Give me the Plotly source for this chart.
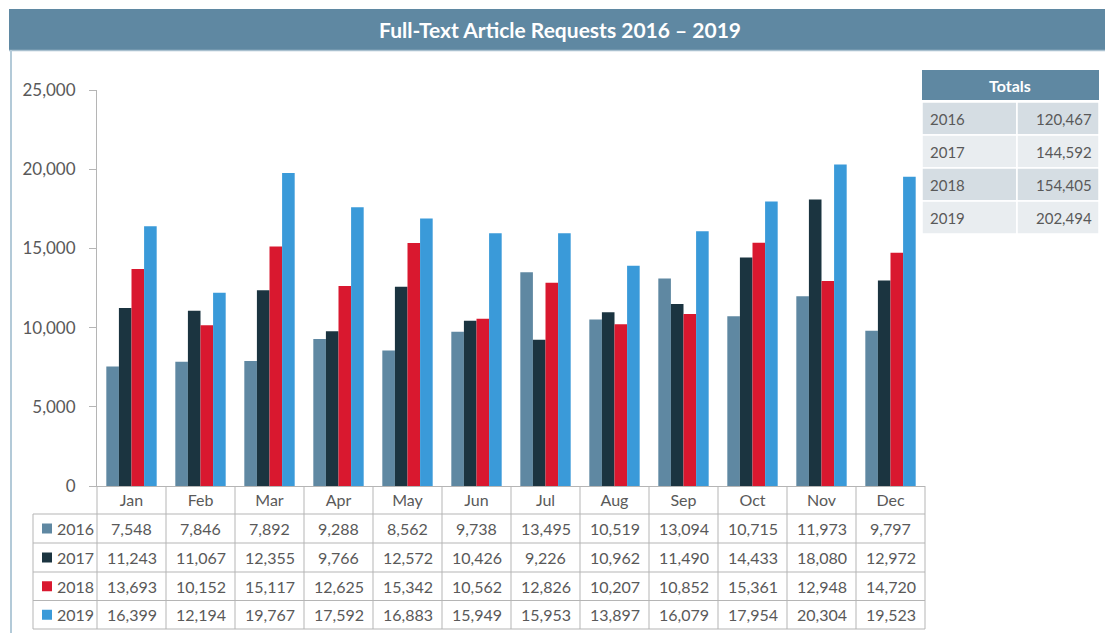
import plotly.graph_objects as go

months = ["Jan", "Feb", "Mar", "Apr", "May", "Jun", "Jul", "Aug", "Sep", "Oct", "Nov", "Dec"]
years = ["2016", "2017", "2018", "2019"]
v2016 = [7548, 7846, 7892, 9288, 8562, 9738, 13495, 10519, 13094, 10715, 11973, 9797]
v2017 = [11243, 11067, 12355, 9766, 12572, 10426, 9226, 10962, 11490, 14433, 18080, 12972]
v2018 = [13693, 10152, 15117, 12625, 15342, 10562, 12826, 10207, 10852, 15361, 12948, 14720]
v2019 = [16399, 12194, 19767, 17592, 16883, 15949, 15953, 13897, 16079, 17954, 20304, 19523]
totals = [120467, 144592, 154405, 202494]
colors = ["#5f88a2", "#1b3440", "#d9182f", "#3a9ad9"]
title_text = "Full-Text Article Requests 2016 \u2013 2019"

series = [v2016, v2017, v2018, v2019]

W, H = 1105, 633
L, R, T, B = 97, 925, 90, 486
PW, PH = R - L, B - T


def px(x):
    return (x - L) / PW


def py(y):
    return (B - y) / PH


FONT = "Lato"
TXT = "#595959"
GRID = "#b5b5b5"
BAR_BLUE = "#5f88a2"

fig = go.Figure()
for yr, vals, c in zip(years, series, colors):
    fig.add_trace(go.Bar(x=months, y=vals, name=yr, marker=dict(color=c, line=dict(width=0)),
                         showlegend=False))

shapes = []
annotations = []

# title bar
shapes.append(dict(type="rect", xref="paper", yref="paper", x0=px(9), x1=px(1106), y0=py(50), y1=py(9),
                   fillcolor=BAR_BLUE, line=dict(width=0), layer="below"))
shapes.append(dict(type="line", xref="paper", yref="paper", x0=px(9), x1=px(1106), y0=py(50.5), y1=py(50.5),
                   line=dict(color="#a9c0cf", width=1.5)))
shapes.append(dict(type="line", xref="paper", yref="paper", x0=px(11), x1=px(11), y0=py(50), y1=py(640),
                   line=dict(color="#b3cad8", width=2)))
annotations.append(dict(text="<b>" + title_text + "</b>", xref="paper", yref="paper", x=px(560), y=py(29.5),
                        showarrow=False, font=dict(family=FONT, size=21, color="white"),
                        xanchor="center", yanchor="middle"))

# data table grid
row_edges = [514, 543, 572, 600.5, 629]
tbl_left = 33
for ye in row_edges:
    shapes.append(dict(type="line", xref="paper", yref="paper", x0=px(tbl_left), x1=1.0, y0=py(ye), y1=py(ye),
                       line=dict(color=GRID, width=1)))
shapes.append(dict(type="line", xref="paper", yref="paper", x0=px(tbl_left), x1=px(tbl_left),
                   y0=py(row_edges[0]), y1=py(row_edges[-1]), line=dict(color=GRID, width=1)))
shapes.append(dict(type="line", xref="paper", yref="paper", x0=0, x1=0, y0=py(B), y1=py(row_edges[-1]),
                   line=dict(color=GRID, width=1)))
shapes.append(dict(type="line", xref="paper", yref="paper", x0=1, x1=1, y0=py(B), y1=py(row_edges[-1]),
                   line=dict(color=GRID, width=1)))
for i in range(len(months) - 1):
    shapes.append(dict(type="line", xref="x", yref="paper", x0=i + 0.5, x1=i + 0.5, y0=py(B),
                       y1=py(row_edges[-1]), line=dict(color=GRID, width=1)))

for r, (yr, vals, c) in enumerate(zip(years, series, colors)):
    yc = (row_edges[r] + row_edges[r + 1]) / 2
    shapes.append(dict(type="rect", xref="paper", yref="paper", x0=px(42), x1=px(52), y0=py(yc + 5),
                       y1=py(yc - 5), fillcolor=c, line=dict(width=0)))
    annotations.append(dict(text=yr, xref="paper", yref="paper", x=px(55), y=py(yc), xanchor="left",
                            yanchor="middle", showarrow=False, font=dict(family=FONT, size=16, color=TXT)))
    for m, v in zip(months, vals):
        annotations.append(dict(text=f"{v:,}", xref="x", yref="paper", x=m, y=py(yc), xanchor="center",
                                yanchor="middle", showarrow=False, font=dict(family=FONT, size=16, color=TXT)))

# totals table
tx0, tx1, tsplit = 922, 1099, 1017
shapes.append(dict(type="rect", xref="paper", yref="paper", x0=px(tx0), x1=px(tx1), y0=py(100), y1=py(70),
                   fillcolor=BAR_BLUE, line=dict(width=0)))
annotations.append(dict(text="<b>Totals</b>", xref="paper", yref="paper", x=px((tx0 + tx1) / 2), y=py(85),
                        showarrow=False, font=dict(family=FONT, size=16, color="white"),
                        xanchor="center", yanchor="middle"))
t_edges = [102, 135, 168, 201, 234]
row_fill = ["#d5dde3", "#e9edf0", "#d5dde3", "#e9edf0"]
for r, (yr, tot) in enumerate(zip(years, totals)):
    y0, y1 = t_edges[r], t_edges[r + 1]
    for a, b in [(tx0, tsplit), (tsplit, tx1)]:
        shapes.append(dict(type="rect", xref="paper", yref="paper", x0=px(a), x1=px(b), y0=py(y1), y1=py(y0),
                           fillcolor=row_fill[r], line=dict(color="white", width=1.5)))
    yc = (y0 + y1) / 2
    annotations.append(dict(text=yr, xref="paper", yref="paper", x=px(tx0 + 6), y=py(yc), xanchor="left",
                            yanchor="middle", showarrow=False, font=dict(family=FONT, size=15, color=TXT)))
    annotations.append(dict(text=f"{tot:,}", xref="paper", yref="paper", x=px(tx1 - 5), y=py(yc),
                            xanchor="right", yanchor="middle", showarrow=False,
                            font=dict(family=FONT, size=15, color=TXT)))

fig.update_layout(
    width=W, height=H,
    margin=dict(l=L, r=W - R, t=T, b=H - B),
    paper_bgcolor="white", plot_bgcolor="white",
    barmode="group", bargap=0.27, bargroupgap=0,
    shapes=shapes, annotations=annotations,
    font=dict(family=FONT, color=TXT),
    xaxis=dict(type="category", categoryorder="array", categoryarray=months, range=[-0.5, 11.5],
               showline=True, linecolor=GRID, linewidth=1, ticks="", showgrid=False, zeroline=False,
               tickfont=dict(family=FONT, size=16, color=TXT), ticklabelstandoff=0),
    yaxis=dict(range=[0, 25000], dtick=5000, tickformat=",", showline=True, linecolor=GRID, linewidth=1,
               ticks="outside", ticklen=7, tickcolor=GRID, showgrid=False, zeroline=False,
               tickfont=dict(family=FONT, size=17, color=TXT), ticklabelstandoff=10),
)

fig.write_html("out.html", config={"displayModeBar": False},
               post_script="document.body.style.margin='0';document.body.style.overflow='hidden';")
